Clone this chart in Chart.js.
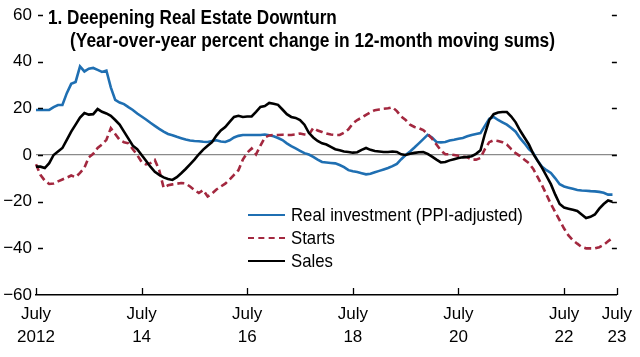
<!DOCTYPE html>
<html>
<head>
<meta charset="utf-8">
<script src="https://cdn.jsdelivr.net/npm/chart.js@4.4.0/dist/chart.umd.min.js"></script>
<style>
  html, body { margin:0; padding:0; background:#fff; }
  #wrap { position:relative; width:640px; height:357px; overflow:hidden; }
  canvas { position:absolute; left:0; top:0; }
  .txt { position:absolute; white-space:nowrap; color:#000; font-family:"Liberation Sans", Arial, sans-serif; transform-origin:0 50%; }
  .title { font-weight:bold; font-size:20px; line-height:22px; }
  .leg { font-size:19px; line-height:22px; }
  .sw { position:absolute; width:37px; height:0; }
</style>
</head>
<body>
<div id="wrap">
  <canvas id="c" width="640" height="357"></canvas>
  <div class="txt title" data-w="289" style="left:48px; top:6px;">1. Deepening Real Estate Downturn</div>
  <div class="txt title" data-w="485" style="left:70px; top:29px;">(Year-over-year percent change in 12-month moving sums)</div>
  <div class="sw" style="left:248px; top:214px; border-top:2px solid #1f6fb2;"></div>
  <div class="sw" style="left:248px; top:237px; border-top:2px dashed #a3283f;"></div>
  <div class="sw" style="left:248px; top:260px; border-top:2px solid #000;"></div>
  <div class="txt leg" data-w="232" data-group="leg" style="left:291px; top:204px;">Real investment (PPI-adjusted)</div>
  <div class="txt leg" data-group="leg" style="left:291px; top:227px;">Starts</div>
  <div class="txt leg" data-group="leg" style="left:291px; top:250px;">Sales</div>
</div>
<script>
// Months from July 2012 to July 2023
const months = [];
for (let y = 2012, m = 6; !(y === 2023 && m > 6); ) {
  months.push(y + '-' + String(m + 1).padStart(2, '0'));
  m++; if (m > 11) { m = 0; y++; }
}

const seriesNames = ['Real investment (PPI-adjusted)', 'Starts', 'Sales'];

const realInvestment = [
  19.3, 19.3, 19.3, 19.3, 20.5, 21.4, 21.4, 26.5, 30.5, 31.3,
  38.0, 35.8, 37.0, 37.3, 36.5, 35.6, 36.2, 29.0, 23.6, 22.5,
  21.8, 20.5, 19.3, 17.8, 16.5, 15.2, 13.8, 12.5, 11.2, 10.0,
  9.0, 8.5, 7.8, 7.2, 6.6, 6.2, 6.0, 5.9, 5.7, 5.6,
  6.0, 6.3, 5.8, 5.6, 6.3, 7.5, 8.2, 8.6, 8.6, 8.6,
  8.6, 8.6, 8.8, 8.5, 8.0, 7.3, 6.4, 5.0, 3.8, 2.8,
  1.8, 0.8, 0.2, -0.8, -2.0, -3.0, -3.2, -3.4, -3.6, -4.3,
  -5.2, -6.5, -7.0, -7.3, -7.8, -8.3, -8.0, -7.4, -6.8, -6.2,
  -5.6, -4.8, -3.8, -1.8, 0.0, 1.5, 3.2, 5.0, 6.8, 8.6,
  7.5, 5.6, 5.4, 5.6, 6.2, 6.5, 7.0, 7.3, 8.0, 8.6,
  9.0, 9.4, 12.5, 15.5, 16.3, 15.0, 14.0, 13.0, 11.6, 10.0,
  7.2, 5.0, 2.5, 0.8, -2.5, -5.0, -6.5, -7.7, -10.0, -12.5,
  -13.5, -14.0, -14.5, -15.0, -15.2, -15.3, -15.5, -15.6, -15.8, -16.2, -17.0, -17.0
];

const starts = [
  -4.0, -8.5, -11.0, -12.4, -12.2, -11.3, -10.5, -9.7, -8.8, -9.5,
  -7.7, -5.5, -1.0, 0.5, 3.0, 4.5, 6.5, 11.5, 9.0, 6.5,
  5.5, 5.0, 2.5, 0.0, -3.0, -4.0, -3.5, -2.1, -6.5, -14.0,
  -13.0, -12.6, -12.3, -12.0, -12.2, -13.5, -15.0, -16.3, -15.0, -17.8,
  -16.5, -14.8, -13.5, -12.3, -10.5, -8.5, -6.5, -2.0, 1.0, 2.8,
  0.3, 4.0, 7.5, 8.4, 8.6, 8.6, 8.7, 8.6, 8.6, 8.8,
  9.2, 8.8, 8.6, 11.6, 10.5, 9.9, 9.2, 8.8, 8.6, 8.6,
  9.6, 11.0, 13.5, 15.0, 16.0, 17.2, 18.3, 19.2, 19.5, 19.8,
  20.0, 20.5, 18.8, 16.5, 15.0, 13.0, 12.0, 11.5, 10.7, 9.0,
  7.0, 4.5, 2.0, 0.3, 0.3, 0.0, -0.3, -0.7, -1.0, -2.0,
  -2.0, -1.3, 2.5, 5.5, 6.3, 6.0, 5.5, 4.5, 2.5, 0.8,
  -0.5, -2.0, -3.5, -6.0, -9.5, -13.0, -17.0, -21.0, -24.5, -28.0,
  -31.5, -34.5, -36.5, -38.0, -39.4, -40.0, -40.0, -40.0, -39.5, -38.5, -37.0, -35.5
];

const sales = [
  -5.0, -5.0, -5.6, -3.5, 0.0, 1.5, 3.0, 6.5, 10.0, 13.0,
  16.0, 18.0, 17.3, 17.5, 19.7, 18.5, 17.8, 16.8, 15.0, 13.0,
  10.0, 7.0, 4.0, 2.5, 0.0, -2.5, -5.0, -7.2, -8.5, -9.6,
  -10.3, -10.7, -9.5, -7.8, -6.0, -4.0, -2.0, 0.3, 2.3, 4.0,
  5.5, 8.3, 10.5, 12.0, 14.2, 16.3, 16.8, 16.3, 16.5, 16.5,
  18.5, 20.6, 21.0, 22.3, 22.0, 21.5, 19.5, 17.5, 16.3, 15.9,
  15.0, 13.0, 9.5, 7.5, 6.0, 5.0, 4.5, 3.5, 2.5, 2.0,
  1.5, 1.3, 1.0, 1.2, 2.2, 3.0, 2.2, 1.7, 1.5, 1.3,
  1.3, 1.5, 1.3, 0.3, 0.0, 0.5, 0.9, 1.2, 1.3, 0.5,
  -0.7, -2.0, -3.2, -3.0, -2.3, -1.8, -1.3, -1.0, -0.8, -0.5,
  0.5, 2.0, 9.0, 15.0, 17.5, 18.2, 18.4, 18.4, 16.5, 14.0,
  10.5, 7.5, 4.5, 0.5, -2.5, -5.5, -9.0, -12.5, -17.0, -21.0,
  -22.5, -23.0, -23.5, -24.0, -25.5, -27.0, -26.5, -25.5, -23.0, -21.0, -19.5, -20.0
];

const xTickIndex = [0, 24, 48, 72, 96, 120, 132];
const xTickLabels = [['July', '2012'], ['July', '14'], ['July', '16'], ['July', '18'], ['July', '20'], ['July', '22'], ['July', '23']];
const yTickLabels = { '60': '60', '40': '40', '20': '20', '0': '0', '-20': '\u221220', '-40': '\u221240', '-60': '\u221260' };

const FONT = '"Liberation Sans", Arial, sans-serif';

// condense HTML text horizontally to match the reference's condensed typeface
(function condense() {
  let legScale = 1;
  document.querySelectorAll('[data-w]').forEach(el => {
    const k = parseFloat(el.dataset.w) / el.offsetWidth;
    el.style.transform = 'scaleX(' + k.toFixed(4) + ')';
    if (el.dataset.group === 'leg') legScale = k;
  });
  document.querySelectorAll('[data-group="leg"]').forEach(el => {
    el.style.transform = 'scaleX(' + legScale.toFixed(4) + ')';
  });
})();

const tickMarks = {
  id: 'tickMarks',
  afterDraw(chart) {
    const { ctx, chartArea: a, scales: { x, y } } = chart;
    ctx.save();
    ctx.strokeStyle = '#000';
    ctx.lineWidth = 1.3;
    y.ticks.forEach(t => {
      if (t.value === -60) return;
      const py = Math.round(y.getPixelForValue(t.value)) + 0.5;
      ctx.beginPath();
      ctx.moveTo(a.left + 2, py); ctx.lineTo(a.left + 7, py);
      ctx.moveTo(a.right - 5, py); ctx.lineTo(a.right, py);
      ctx.stroke();
    });
    x.ticks.forEach(t => {
      const px = Math.round(x.getPixelForValue(t.value)) + 0.5;
      ctx.beginPath();
      ctx.moveTo(px, a.bottom); ctx.lineTo(px, a.bottom - 7);
      ctx.stroke();
    });
    ctx.restore();
  }
};

new Chart(document.getElementById('c'), {
  type: 'line',
  data: {
    labels: months,
    datasets: [
      { label: seriesNames[0], data: realInvestment, borderColor: '#1f6fb2', borderWidth: 2.6, pointRadius: 0, tension: 0, order: 3 },
      { label: seriesNames[1], data: starts, borderColor: '#a3283f', borderWidth: 2.6, borderDash: [7, 4], pointRadius: 0, tension: 0, order: 2 },
      { label: seriesNames[2], data: sales, borderColor: '#000000', borderWidth: 2.6, pointRadius: 0, tension: 0, order: 1 }
    ]
  },
  options: {
    responsive: false,
    animation: false,
    devicePixelRatio: 1,
    layout: { padding: { left: 0, right: 23, top: 15, bottom: 0 } },
    plugins: { legend: { display: false }, title: { display: false }, tooltip: { enabled: false } },
    scales: {
      x: {
        type: 'category',
        offset: false,
        afterBuildTicks(scale) { scale.ticks = scale.ticks.filter(t => xTickIndex.includes(t.value)); },
        afterFit(scale) { scale.height = 62; },
        ticks: {
          autoSkip: false, maxRotation: 0, minRotation: 0, padding: 8,
          color: '#000', font: { family: FONT, size: 17, lineHeight: 1.35 },
          callback: (v) => xTickLabels[xTickIndex.indexOf(v)]
        },
        grid: { display: false, drawTicks: false },
        border: { display: true, color: '#000', width: 1.5 }
      },
      y: {
        min: -60, max: 60,
        afterFit(scale) { scale.width = 36; },
        ticks: {
          stepSize: 10, padding: 4, color: '#000',
          font: { family: FONT, size: 17 },
          callback: (v) => yTickLabels[String(v)] || ''
        },
        grid: {
          drawTicks: false,
          color: (c) => (c.tick && c.tick.value === 0) ? '#8a8a8a' : 'rgba(0,0,0,0)',
          lineWidth: 1.2
        },
        border: { display: false }
      }
    }
  },
  plugins: [tickMarks]
});
</script>
</body>
</html>
